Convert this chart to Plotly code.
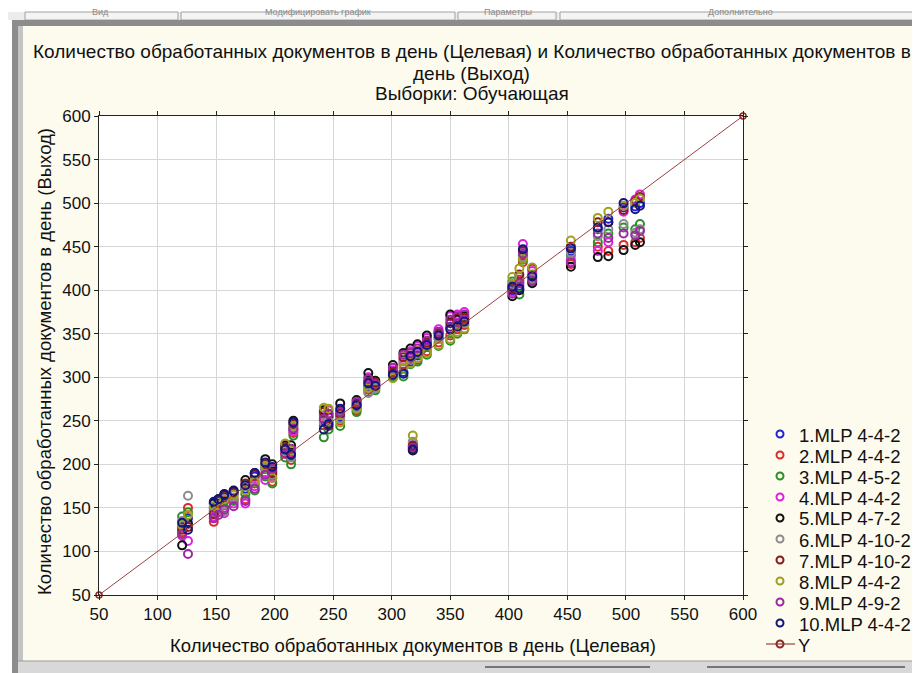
import plotly.graph_objects as go

# ---- data ----
target = [121, 126, 148, 152, 157, 165, 175, 183, 192, 198, 209, 214, 216, 242, 246, 256, 270, 280, 286,
          301, 310, 316, 318, 322, 330, 340, 350, 356, 362, 403, 409, 412, 420, 453, 476, 485, 498, 512, 508]

mlp1 = [128, 138, 150, 158, 162, 166, 172, 186, 195, 192, 218, 210, 240, 250, 248, 255, 266, 290, 292,
        302, 306, 318, 222, 325, 335, 345, 358, 362, 366, 400, 405, 440, 415, 445, 470, 482, 495, 500, 496]
mlp2 = [122, 150, 134, 145, 158, 160, 160, 178, 190, 180, 213, 205, 236, 245, 258, 250, 262, 286, 288,
        305, 315, 322, 220, 320, 330, 340, 348, 355, 360, 405, 412, 432, 410, 430, 450, 445, 452, 460, 455]
mlp3 = [140, 145, 147, 160, 150, 158, 166, 170, 186, 178, 208, 200, 233, 231, 240, 244, 260, 283, 285,
        300, 301, 315, 218, 318, 326, 336, 342, 350, 355, 410, 395, 435, 418, 440, 455, 465, 472, 476, 470]
mlp4 = [118, 112, 140, 148, 144, 155, 155, 175, 182, 185, 216, 214, 238, 256, 262, 262, 268, 300, 290,
        308, 320, 330, 225, 336, 345, 355, 370, 372, 375, 398, 410, 453, 422, 435, 445, 455, 490, 510, 504]
mlp5 = [107, 132, 155, 160, 166, 170, 182, 190, 206, 200, 222, 222, 250, 262, 255, 270, 274, 305, 296,
        314, 328, 333, 216, 338, 348, 352, 372, 366, 370, 393, 400, 437, 408, 427, 438, 439, 446, 455, 452]
mlp6 = [135, 164, 145, 150, 146, 162, 175, 182, 196, 188, 215, 208, 243, 248, 250, 252, 265, 282, 287,
        303, 318, 320, 226, 328, 338, 344, 356, 360, 362, 407, 415, 438, 413, 443, 462, 470, 476, 470, 466]
mlp7 = [125, 128, 143, 155, 164, 168, 178, 188, 200, 190, 220, 212, 246, 260, 244, 258, 270, 295, 294,
        306, 323, 325, 221, 330, 340, 350, 362, 368, 368, 402, 418, 445, 425, 450, 478, 478, 492, 507, 502]
mlp8 = [130, 142, 152, 153, 160, 165, 170, 180, 198, 184, 224, 216, 244, 265, 264, 248, 264, 288, 289,
        299, 311, 316, 233, 322, 328, 337, 344, 352, 356, 415, 425, 436, 426, 457, 483, 490, 497, 505, 500]
mlp9 = [120, 97, 138, 142, 148, 152, 158, 172, 188, 195, 212, 218, 241, 252, 258, 260, 272, 298, 292,
        311, 326, 328, 219, 333, 342, 352, 366, 370, 372, 396, 408, 442, 411, 432, 465, 460, 465, 468, 463]
mlp10 = [133, 125, 157, 160, 165, 169, 176, 190, 202, 197, 217, 211, 248, 240, 246, 264, 268, 293, 290,
         303, 304, 324, 217, 329, 337, 348, 355, 358, 364, 404, 402, 447, 416, 448, 472, 478, 500, 497, 493]

series_names = ["1.MLP 4-4-2", "2.MLP 4-4-2", "3.MLP 4-5-2", "4.MLP 4-4-2", "5.MLP 4-7-2",
                "6.MLP 4-10-2", "7.MLP 4-10-2", "8.MLP 4-4-2", "9.MLP 4-9-2", "10.MLP 4-4-2"]
series_colors = ["#2222d0", "#e02a2a", "#2a8f2a", "#e020e0", "#111111",
                 "#8c8c8c", "#8a1a1a", "#a0a020", "#9a2aa0", "#141480"]
series_values = [mlp1, mlp2, mlp3, mlp4, mlp5, mlp6, mlp7, mlp8, mlp9, mlp10]

ident_x = [50, 600]
ident_y = [50, 600]
ident_name = "Y"
ident_color = "#9b4040"

x_ticks = [50, 100, 150, 200, 250, 300, 350, 400, 450, 500, 550, 600]
y_ticks = [50, 100, 150, 200, 250, 300, 350, 400, 450, 500, 550, 600]

title_lines = ["Количество обработанных документов в день (Целевая) и Количество обработанных документов в",
               "день (Выход)", "Выборки: Обучающая"]
x_title = "Количество обработанных документов в день (Целевая)"
y_title = "Количество обработанных документов в день (Выход)"
toolbar_labels = ["Вид", "Модифицировать график", "Параметры", "Дополнительно"]

# ---- figure ----
# The page body has an 8px margin, so the figure is 8px smaller and all
# positions below are given in window pixels and shifted by OFF.
OFF = 8
W, H = 920 - OFF, 673 - OFF
VL, VR, VT, VB = 99, 743, 116, 595          # plot area in window pixels
L, R, T, B = VL - OFF, VR - OFF, VT - OFF, VB - OFF
FONT = "Liberation Sans, Arial, sans-serif"
TXT = "#111111"


def px(x):
    return (x - VL) / (VR - VL)


def py(y):
    return (VB - y) / (VB - VT)


fig = go.Figure()
for name, color, vals in zip(series_names, series_colors, series_values):
    fig.add_trace(go.Scatter(
        x=target, y=vals, mode="markers", name=name, showlegend=False,
        marker=dict(symbol="circle-open", size=8, color=color, line=dict(width=2, color=color)),
    ))

fig.add_trace(go.Scatter(
    x=ident_x, y=ident_y, mode="lines+markers", name=ident_name, showlegend=False,
    line=dict(color=ident_color, width=1),
    marker=dict(symbol="circle-open", size=6, color="#8a2a2a", line=dict(width=1.5, color="#8a2a2a")),
    cliponaxis=False,
))

axis_common = dict(
    showgrid=True, gridcolor="#d6d6d6", gridwidth=1,
    showline=True, linecolor="#222222", linewidth=1, mirror="ticks",
    ticks="outside", ticklen=4, tickcolor="#222222",
    tickfont=dict(family=FONT, size=17, color=TXT),
    zeroline=False, tickmode="array",
)

fig.update_layout(
    width=W, height=H,
    margin=dict(l=L, r=W - R, t=T, b=H - B, pad=0, autoexpand=False),
    paper_bgcolor="#fdfbee", plot_bgcolor="#ffffff",
    xaxis=dict(range=[50, 600], tickvals=x_ticks, **axis_common),
    yaxis=dict(range=[50, 600], tickvals=y_ticks, **axis_common),
    showlegend=False,
    font=dict(family=FONT),
)

annotations = []
for txt, yy in zip(title_lines, [52, 73, 94]):
    annotations.append(dict(text=txt, x=px(472), y=py(yy), xref="paper", yref="paper",
                            xanchor="center", yanchor="middle", showarrow=False,
                            font=dict(family=FONT, size=19, color=TXT)))
annotations.append(dict(text=x_title, x=px(413), y=py(645), xref="paper", yref="paper",
                        xanchor="center", yanchor="middle", showarrow=False,
                        font=dict(family=FONT, size=18.5, color=TXT)))
annotations.append(dict(text=y_title, x=px(44), y=py(362), xref="paper", yref="paper",
                        xanchor="center", yanchor="middle", showarrow=False, textangle=-90,
                        font=dict(family=FONT, size=18.5, color=TXT)))

for txt, cx in zip(toolbar_labels, [100, 318, 508, 740]):
    annotations.append(dict(text=txt, x=px(cx), y=py(12), xref="paper", yref="paper",
                            xanchor="center", yanchor="middle", showarrow=False,
                            font=dict(family=FONT, size=9, color="#8a8a8a")))

shapes = []
# custom legend
row0, step = 434, 21
for i, (name, color) in enumerate(zip(series_names, series_colors)):
    yy = row0 + step * i
    shapes.append(dict(type="circle", xref="paper", yref="paper",
                       x0=px(776.5), x1=px(783.5), y0=py(yy + 3.5), y1=py(yy - 3.5),
                       line=dict(width=2, color=color)))
    annotations.append(dict(text=name, x=px(797), y=py(yy + 1), xref="paper", yref="paper",
                            xanchor="left", yanchor="middle", showarrow=False,
                            font=dict(family=FONT, size=18.5, color=TXT)))
yy = row0 + step * 10
shapes.append(dict(type="line", xref="paper", yref="paper", x0=px(766), x1=px(795), y0=py(yy), y1=py(yy),
                   line=dict(width=1.2, color=ident_color)))
shapes.append(dict(type="circle", xref="paper", yref="paper",
                   x0=px(776.5), x1=px(783.5), y0=py(yy + 3.5), y1=py(yy - 3.5),
                   line=dict(width=2, color="#8a2a2a")))
annotations.append(dict(text=ident_name, x=px(796), y=py(yy + 1), xref="paper", yref="paper",
                        xanchor="left", yanchor="middle", showarrow=False,
                        font=dict(family=FONT, size=18.5, color=TXT)))
fig.update_layout(annotations=annotations)

# window chrome: top white strip, toolbar, frame
shapes.append(dict(type="rect", xref="paper", yref="paper", x0=px(0), x1=px(920), y0=py(0), y1=py(12),
                   fillcolor="#ffffff", line=dict(width=0), layer="below"))
shapes.append(dict(type="rect", xref="paper", yref="paper", x0=px(0), x1=px(920), y0=py(12), y1=py(20),
                   fillcolor="#ececec", line=dict(width=0), layer="below"))
for x0, x1 in [(25, 178), (181, 455), (458, 556), (560, 920)]:
    shapes.append(dict(type="rect", xref="paper", yref="paper", x0=px(x0), x1=px(x1), y0=py(12), y1=py(20),
                       fillcolor="#f4f4f4", line=dict(width=1, color="#a0a0a0"), layer="below"))
shapes.append(dict(type="rect", xref="paper", yref="paper", x0=px(12), x1=px(920), y0=py(20), y1=py(26),
                   fillcolor="#8c8c8c", line=dict(width=0), layer="below"))
shapes.append(dict(type="rect", xref="paper", yref="paper", x0=px(0), x1=px(12), y0=py(20), y1=py(673),
                   fillcolor="#ffffff", line=dict(width=0), layer="below"))
shapes.append(dict(type="rect", xref="paper", yref="paper", x0=px(12), x1=px(18), y0=py(20), y1=py(673),
                   fillcolor="#8c8c8c", line=dict(width=0), layer="below"))
shapes.append(dict(type="rect", xref="paper", yref="paper", x0=px(18), x1=px(23), y0=py(26), y1=py(673),
                   fillcolor="#c4c4c4", line=dict(width=0), layer="below"))
# bottom status bar
shapes.append(dict(type="rect", xref="paper", yref="paper", x0=px(18), x1=px(920), y0=py(661), y1=py(673),
                   fillcolor="#d8d8d8", line=dict(width=0), layer="below"))
shapes.append(dict(type="line", xref="paper", yref="paper", x0=px(18), x1=px(920), y0=py(661), y1=py(661),
                   line=dict(width=1, color="#9a9a9a")))
for x0, x1 in [(485, 650), (707, 905)]:
    shapes.append(dict(type="line", xref="paper", yref="paper", x0=px(x0), x1=px(x1), y0=py(667), y1=py(667),
                       line=dict(width=1.5, color="#555555")))
fig.update_layout(shapes=shapes)

fig.write_html("out.html")
